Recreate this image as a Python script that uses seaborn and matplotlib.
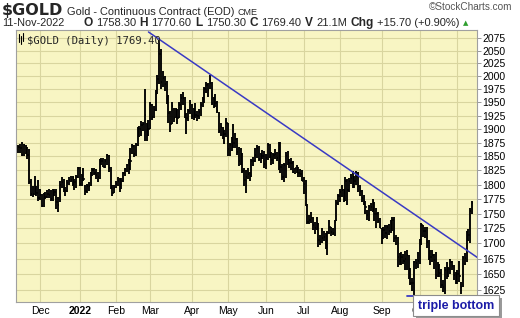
import numpy as np
import pandas as pd
import matplotlib
matplotlib.use("Agg")
import matplotlib.pyplot as plt
import seaborn as sns
from matplotlib.ticker import FixedLocator, NullLocator, FuncFormatter
from matplotlib.patches import Rectangle

# ---------------- data ----------------
start_date = "2021-11-12"
end_date = "2022-11-11"
holidays = ["2021-11-25", "2021-12-24", "2022-01-17", "2022-02-21", "2022-04-15",
            "2022-05-30", "2022-06-20", "2022-07-04", "2022-09-05"]

highs = [
    1870, 1872, 1877, 1873, 1870, 1867, 1863, 1810, 1798, 1815, 1798, 1809,
    1792, 1784, 1786, 1787, 1790, 1793, 1791, 1793, 1792, 1792, 1779, 1806, 1814, 1810, 1796, 1808, 1814, 1816, 1816, 1810, 1817, 1831,
    1831, 1818, 1829, 1799, 1801, 1804, 1822, 1830, 1829, 1827, 1822, 1845, 1848, 1847, 1845, 1855, 1853, 1831, 1799, 1800,
    1806, 1813, 1812, 1812, 1823, 1829, 1836, 1845, 1865, 1873, 1870, 1875, 1903, 1906, 1914, 1913, 1976, 1912, 1916,
    1950, 1946, 1943, 1974, 2003, 2072, 2053, 2010, 2001, 1990, 1963, 1933, 1950, 1940, 1940, 1937, 1950, 1965, 1969, 1960, 1930, 1937, 1954,
    1947, 1939, 1949, 1934, 1937, 1950, 1960, 1980, 1988, 1987, 2003, 1988, 1961, 1965, 1953, 1932, 1912, 1904, 1898, 1920,
    1912, 1875, 1886, 1909, 1892, 1883, 1867, 1865, 1857, 1830, 1826, 1830, 1822, 1845, 1849, 1866, 1870, 1869, 1857, 1861, 1860,
    1855, 1874, 1873, 1858, 1856, 1863, 1858, 1877, 1877, 1836, 1838, 1858, 1860, 1845, 1847, 1841, 1830, 1835, 1831, 1828, 1826,
    1813, 1808, 1767, 1748, 1752, 1744, 1736, 1745, 1735, 1714, 1725, 1720, 1718, 1720, 1739, 1728, 1725, 1740, 1773, 1784,
    1793, 1800, 1793, 1813, 1810, 1812, 1818, 1824, 1815, 1824, 1822, 1800, 1790, 1782, 1772, 1757, 1765, 1769, 1775, 1770, 1759, 1752, 1743,
    1726, 1727, 1731, 1731, 1733, 1739, 1744, 1744, 1714, 1710, 1685, 1686, 1683, 1687, 1689, 1681, 1660, 1644, 1671, 1675, 1686,
    1708, 1735, 1730, 1728, 1728, 1705, 1689, 1690, 1682, 1686, 1669, 1667, 1658, 1640, 1662, 1669, 1661, 1675, 1672, 1664, 1653,
    1656, 1672, 1638, 1680, 1684, 1721, 1724, 1759, 1771,
]
lows = [
    1856, 1857, 1850, 1851, 1855, 1846, 1802, 1780, 1778, 1782, 1780, 1772,
    1774, 1762, 1761, 1775, 1776, 1777, 1772, 1771, 1781, 1758, 1753, 1770, 1795, 1788, 1781, 1787, 1800, 1805, 1798, 1790, 1795, 1812,
    1798, 1797, 1806, 1782, 1786, 1789, 1798, 1816, 1817, 1810, 1805, 1810, 1834, 1831, 1829, 1834, 1822, 1792, 1781, 1785,
    1795, 1797, 1788, 1792, 1805, 1815, 1822, 1819, 1825, 1854, 1849, 1850, 1869, 1885, 1888, 1897, 1878, 1878, 1887,
    1900, 1917, 1920, 1933, 1965, 1985, 1976, 1980, 1972, 1947, 1911, 1895, 1910, 1913, 1920, 1910, 1920, 1936, 1944, 1920, 1890, 1914, 1928,
    1919, 1917, 1920, 1915, 1919, 1924, 1941, 1949, 1967, 1960, 1975, 1945, 1940, 1942, 1930, 1892, 1888, 1882, 1872, 1885,
    1851, 1850, 1860, 1865, 1865, 1852, 1833, 1835, 1820, 1797, 1786, 1810, 1807, 1813, 1833, 1840, 1848, 1842, 1838, 1846, 1829,
    1828, 1843, 1848, 1835, 1837, 1845, 1842, 1826, 1820, 1808, 1805, 1812, 1835, 1829, 1825, 1820, 1818, 1820, 1814, 1814, 1806,
    1784, 1763, 1732, 1733, 1735, 1723, 1716, 1722, 1695, 1697, 1701, 1704, 1691, 1681, 1715, 1713, 1714, 1712, 1738, 1764,
    1770, 1779, 1770, 1772, 1765, 1787, 1801, 1795, 1795, 1800, 1788, 1781, 1770, 1765, 1750, 1740, 1738, 1754, 1752, 1738, 1725, 1734, 1726,
    1699, 1707, 1709, 1708, 1714, 1717, 1720, 1702, 1698, 1661, 1664, 1664, 1666, 1657, 1657, 1643, 1633, 1624, 1615, 1659, 1660,
    1666, 1698, 1711, 1709, 1692, 1673, 1665, 1670, 1659, 1642, 1645, 1645, 1628, 1621, 1618, 1642, 1646, 1650, 1657, 1641, 1635,
    1635, 1637, 1618, 1629, 1664, 1670, 1704, 1700, 1750,
]
closes = [
    1868, 1866, 1853, 1870, 1861, 1852, 1805, 1783, 1784, 1788, 1785, 1776,
    1782, 1763, 1783, 1779, 1784, 1782, 1775, 1783, 1787, 1770, 1765, 1799, 1805, 1794, 1789, 1803, 1809, 1808, 1811, 1805, 1814, 1829,
    1801, 1815, 1810, 1789, 1797, 1798, 1818, 1826, 1821, 1817, 1813, 1843, 1842, 1832, 1842, 1852, 1829, 1796, 1786, 1795,
    1801, 1807, 1804, 1807, 1820, 1827, 1834, 1836, 1842, 1869, 1855, 1871, 1898, 1900, 1907, 1910, 1926, 1889, 1900,
    1944, 1922, 1936, 1966, 1995, 2043, 1988, 1997, 1985, 1960, 1929, 1909, 1943, 1921, 1929, 1921, 1944, 1958, 1958, 1939, 1920, 1933, 1949,
    1925, 1933, 1926, 1925, 1932, 1945, 1954, 1976, 1984, 1974, 1986, 1949, 1955, 1949, 1934, 1896, 1903, 1885, 1891, 1911,
    1863, 1870, 1867, 1875, 1882, 1858, 1841, 1853, 1824, 1808, 1814, 1818, 1815, 1841, 1842, 1853, 1865, 1846, 1848, 1851, 1837,
    1848, 1870, 1851, 1844, 1852, 1854, 1848, 1871, 1831, 1813, 1835, 1851, 1840, 1838, 1838, 1822, 1830, 1824, 1821, 1818, 1807,
    1801, 1763, 1736, 1740, 1742, 1731, 1725, 1735, 1705, 1703, 1709, 1711, 1697, 1718, 1727, 1719, 1717, 1736, 1768, 1781,
    1787, 1790, 1776, 1807, 1791, 1806, 1812, 1813, 1807, 1816, 1797, 1789, 1776, 1771, 1762, 1747, 1761, 1761, 1771, 1749, 1749, 1737, 1726,
    1713, 1722, 1718, 1727, 1721, 1728, 1740, 1709, 1709, 1677, 1683, 1678, 1671, 1674, 1681, 1655, 1636, 1636, 1670, 1668, 1672,
    1702, 1730, 1721, 1720, 1702, 1675, 1677, 1681, 1673, 1648, 1664, 1652, 1633, 1630, 1656, 1654, 1658, 1669, 1663, 1648, 1640,
    1650, 1647, 1630, 1676, 1676, 1712, 1714, 1754, 1769,
]

price_ticks = [1625, 1650, 1675, 1700, 1725, 1750, 1775, 1800, 1825, 1850, 1875, 1900,
               1925, 1950, 1975, 2000, 2025, 2050, 2075]
month_labels = ["Dec", "2022", "Feb", "Mar", "Apr", "May", "Jun", "Jul", "Aug", "Sep", "Oct"]

trend_dates = ["2022-02-28", "2022-11-16"]
trend_prices = [2088, 1677]
bottom_dates = ["2022-09-22", "2022-11-16"]
bottom_prices = [1616, 1616]

header_segments = [("O", True), ("1758.30", False), ("H", True), ("1770.60", False),
                   ("L", True), ("1750.30", False), ("C", True), ("1769.40", False),
                   ("V", True), ("21.1M", False), ("Chg", True), ("+15.70 (+0.90%)", False)]

# ---------------- calendar ----------------
cal = pd.offsets.CustomBusinessDay(holidays=holidays)
ext_days = pd.date_range(start_date, "2022-11-30", freq=cal)
days = ext_days[ext_days <= pd.Timestamp(end_date)]
df = pd.DataFrame({"date": days, "high": highs, "low": lows, "close": closes})
df["pos"] = np.arange(len(df))

def pos_of(d):
    return int(np.searchsorted(ext_days, pd.Timestamp(d)))

# ---------------- figure ----------------
W, H = 520, 318
sns.set_theme(style="white")
plt.rcParams["font.family"] = ["Liberation Sans", "DejaVu Sans"]
fig = plt.figure(figsize=(W / 100, H / 100), dpi=100)
fig.patch.set_facecolor("white")
ax = fig.add_axes([16 / W, 1 - 302 / H, 461 / W, 272 / H])
ax.set_facecolor("#f8f5c3")

n = len(df)
ax.set_xlim(-1.3, n - 1 + 2.8)
ax.set_yscale("log")
ax.set_ylim(1606, 2092)

# grid
grid_c = "#d9d59f"
month_first = df.groupby([df.date.dt.year, df.date.dt.month])["pos"].min().values[1:]
month_first = month_first[:len(month_labels)]
for p in month_first:
    ax.axvline(p, color=grid_c, lw=0.8, zorder=0)
ax.axvline(df.groupby([df.date.dt.year, df.date.dt.month])["pos"].min().values[-1],
           color=grid_c, lw=0.8, zorder=0)
for t in price_ticks:
    ax.axhline(t, color=grid_c, lw=0.8, zorder=0)

# OHLC bars
ax.vlines(df["pos"], df["low"], df["high"], color="black", lw=1.35, zorder=3)
ax.hlines(df["close"], df["pos"], df["pos"] + 0.75, color="black", lw=1.1, zorder=3)

# trend lines
tl = pd.DataFrame({"x": [pos_of(d) for d in trend_dates], "y": trend_prices})
sns.lineplot(data=tl, x="x", y="y", ax=ax, color="#3a3ac4", lw=1.1, zorder=4)
bl = pd.DataFrame({"x": [pos_of(d) for d in bottom_dates], "y": bottom_prices})
sns.lineplot(data=bl, x="x", y="y", ax=ax, color="#3a3ac4", lw=1.3, zorder=4)
ax.set_xlabel("")
ax.set_ylabel("")

# axes ticks
ax.yaxis.tick_right()
ax.yaxis.set_major_locator(FixedLocator(price_ticks))
ax.yaxis.set_minor_locator(NullLocator())
ax.yaxis.set_major_formatter(FuncFormatter(lambda v, p: f"{v:.0f}"))
ax.tick_params(axis="y", which="both", right=True, length=3, width=0.6, color="#888888",
               pad=1, labelsize=7.5, labelcolor="black")
ax.set_xticks(month_first)
ax.set_xticklabels(month_labels)
ax.tick_params(axis="x", length=0, pad=3, labelsize=7.5, labelcolor="black")
for lab in ax.get_xticklabels():
    if lab.get_text() == "2022":
        lab.set_fontweight("bold")
for s in ax.spines.values():
    s.set_color("#a0a0a0")
    s.set_linewidth(0.8)

# legend inside plot
ax.text(0.024, 0.978, "$GOLD (Daily) 1769.40", transform=ax.transAxes, fontsize=7.6,
        family="DejaVu Sans Mono", va="top", ha="left", zorder=6)
ic = ax.transAxes
for dx, y0, y1 in [(0.006, 0.955, 0.985), (0.011, 0.948, 0.978), (0.016, 0.958, 0.988)]:
    ax.plot([dx, dx], [y0, y1], transform=ic, color="black", lw=0.8, zorder=6)

# header
renderer = fig.canvas.get_renderer()
t0 = fig.text(2 / W, 1 - 15 / H, "$GOLD", fontsize=11.5, fontweight="bold", va="baseline",
              family="DejaVu Sans")
x1 = 2 + t0.get_window_extent(renderer).width + 4
t1 = fig.text(x1 / W, 1 - 15 / H, "Gold - Continuous Contract (EOD)", fontsize=7.9, va="baseline")
x2 = x1 + t1.get_window_extent(renderer).width + 3
fig.text(x2 / W, 1 - 15 / H, "CME", fontsize=6.5, va="baseline")
fig.text(2 / W, 1 - 26 / H, "11-Nov-2022", fontsize=7.8, va="baseline")
fig.text(512 / W, 1 - 10 / H, "\u00a9StockCharts.com", fontsize=7.2, color="#555555",
         va="baseline", ha="right")
x = 83
for s, bold in header_segments:
    t = fig.text(x / W, 1 - 26 / H, s, fontsize=8.6 if bold else 8.0,
                 fontweight="bold" if bold else "normal", va="baseline")
    x += t.get_window_extent(renderer).width + 3.5
fig.text(x / W, 1 - 25 / H, "\u25b2", fontsize=5, color="#2e9e2e", va="baseline",
         family="DejaVu Sans")

# annotation box with shadow
bx, by, bw, bh = 413, 295, 86, 21
fig.patches.append(Rectangle(((bx + 3) / W, 1 - (by + bh + 3) / H), bw / W, bh / H,
                             transform=fig.transFigure, facecolor="#9a9a9a", edgecolor="none", zorder=8))
fig.patches.append(Rectangle((bx / W, 1 - (by + bh) / H), bw / W, bh / H,
                             transform=fig.transFigure, facecolor="white", edgecolor="#8c8c8c",
                             lw=0.8, zorder=9))
fig.text((bx + 5) / W, 1 - (by + bh / 2 + 0.5) / H, "triple bottom", fontsize=9, fontweight="bold",
         color="#1c1ca8", va="center", ha="left", zorder=10)

fig.savefig("out.png", dpi=100)
